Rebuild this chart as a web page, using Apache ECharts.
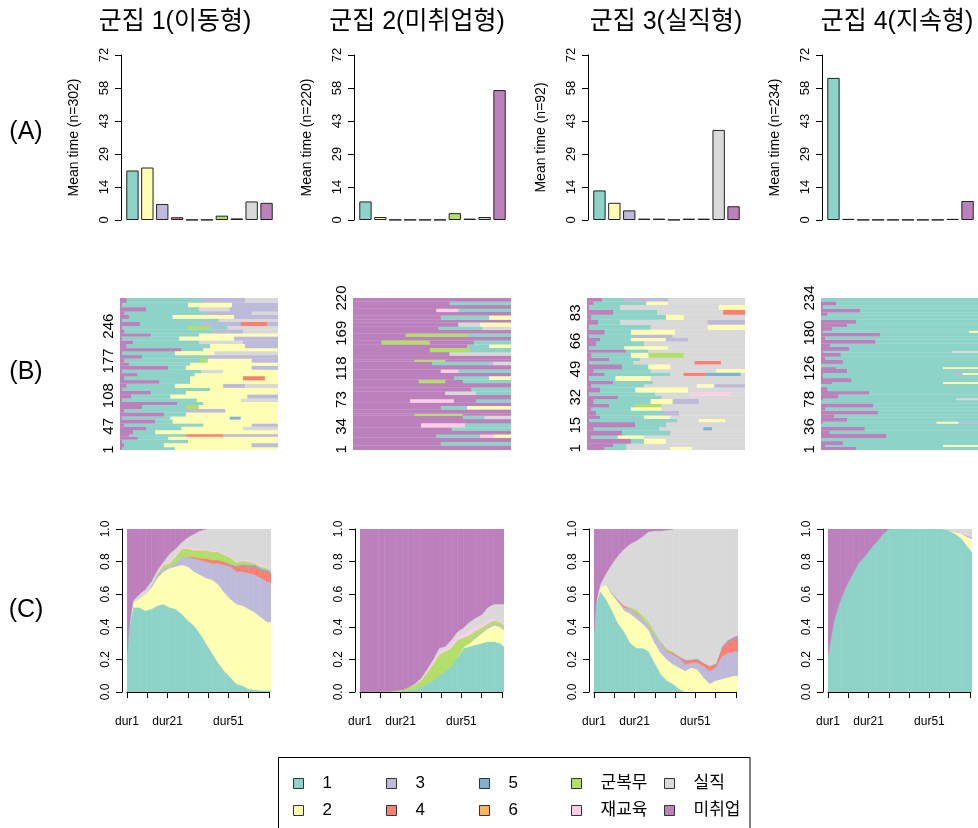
<!DOCTYPE html>
<html><head><meta charset="utf-8">
<script src="https://cdn.jsdelivr.net/npm/echarts@6/dist/echarts.min.js"></script>
<style>html,body{margin:0;padding:0;background:#fff}#c{width:978px;height:828px}</style>
</head><body><div id="c"></div>
<script>
// ---------- data ----------
const states = ['1','2','3','4','5','6','군복무','재교육','실직','미취업'];
const stateCodes = 'abcdefghij';
const colors = ['#8DD3C7','#FFFFB3','#BEBADA','#FB8072','#80B1D3','#FDB462','#B3DE69','#FCCDE5','#D9D9D9','#BC80BD'];
const clusterTitles = ['군집 1(이동형)','군집 2(미취업형)','군집 3(실직형)','군집 4(지속형)'];
const clusterN = [302,220,92,234];
const rowLabels = ['(A)','(B)','(C)'];

// (A) mean time in each state
const meanTimeTicks = [0,14,29,43,58,72];
const meanTime1 = [21.6,22.9,7.0,1.2,0.1,0.1,1.9,0.7,8.1,7.5];
const meanTime2 = [8.1,1.3,0.1,0.1,0.1,0.1,3.0,0.6,1.3,56.7];
const meanTime3 = [12.9,7.5,4.2,0.6,0.6,0.1,0.6,0.6,39.3,6.0];
const meanTime4 = [62.0,0.5,0.1,0.1,0.1,0.1,0.1,0.1,0.5,8.3];

// (B) sequence index plots: [rows, spells] from bottom; letter = state, number = months
const seqTicks1 = [1,47,108,177,246];
const seqTicks2 = [1,34,73,118,169,220];
const seqTicks3 = [1,15,32,49,66,83];
const seqTicks4 = [1,36,78,126,180,234];
const seq1 = [[6,'j1 a24 b47'],[8,'j2 a18 b40 c12'],[7,'j1 a30 b41'],[6,'j8 a14 b50'],[5,'j4 a26 d17 c25'],
 [8,'j6 a10 b56'],[7,'j12 a16 b28 i16'],[6,'j2 a36 b22 c12'],[8,'j16 a8 b48'],[6,'j1 a22 b27 e5 b17'],
 [8,'j20 a10 b42'],[7,'j2 a28 c18 b24'],[8,'j10 a20 g6 b36'],[6,'j26 a12 b34'],[7,'j1 a34 b20 i17'],
 [8,'j5 a18 b35 c14'],[7,'j14 a16 b42'],[6,'j1 a40 b31'],[8,'j3 a22 b22 c10 i15'],[7,'j18 a14 b40'],
 [8,'j2 a30 b24 d10 b6'],[6,'j8 a26 b38'],[7,'j1 a36 i10 b25'],[8,'j22 a8 b30 c12'],[6,'j4 a28 b40'],
 [8,'j2 a34 g4 b20 c12'],[7,'j10 a30 c32'],[8,'j1 a24 b18 i29'],[6,'j28 a10 b34'],[8,'j3 a38 b16 c15'],
 [7,'j6 a30 i20 c16'],[8,'j1 a26 b25 c20'],[6,'j14 a22 b36'],[8,'j2 a40 c14 i16'],[7,'j1 a30 g10 a8 i23'],
 [8,'j9 a28 c18 d12 c5'],[6,'j1 a44 i27'],[8,'j4 a20 b28 c20'],[7,'j2 a36 c22 i12'],[8,'j12 a24 i14 c22'],
 [9,'j1 a30 b20 c21'],[9,'j3 a34 c20 i15']];
const seq2 = [[7,'j72'],[5,'j40 a32'],[6,'j72'],[5,'j38 a20 h6 b8'],[5,'j72'],[5,'j45 a27'],[6,'j31 h20 a21'],
 [6,'j72'],[5,'j50 a10 i12'],[3,'j28 g22 j22'],[6,'j72'],[5,'j40 a12 b20'],[5,'j72'],[5,'j26 h20 j10 a16'],
 [6,'j72'],[5,'j42 i14 a16'],[6,'j54 a18'],[6,'j72'],[5,'j30 g12 j8 a22'],[5,'j46 a16 b10'],[5,'j72'],
 [5,'j40 h8 a24'],[6,'j72'],[5,'j36 a26 c2 i8'],[3,'j28 g14 j30'],[6,'j72'],[5,'j44 i28'],[6,'j35 g18 a19'],
 [5,'j52 a10 b10'],[6,'j13 g22 j20 a17'],[5,'j72'],[5,'j24 g28 a20'],[5,'j72'],[5,'j39 a20 i13'],
 [6,'j48 i10 b14'],[4,'j72'],[6,'j40 a22 b10'],[5,'j72'],[5,'j38 h10 a24'],[5,'j72'],[5,'j44 a28'],[5,'j72']];
const seq3 = [[2,'j8 a10 i20 b10 i24'],[2,'j12 a6 i54'],[3,'j20 a6 b10 i36'],[2,'j2 a12 b12 i46'],
 [3,'j16 a22 i34'],[2,'j3 a30 i20 e4 i15'],[3,'j22 a14 i36'],[2,'j1 a40 i10 b12 i9'],[2,'j6 a20 b12 i34'],
 [3,'j4 a30 c8 i30'],[2,'j2 a18 b14 i38'],[2,'j10 a12 g12 i38'],[3,'j3 a26 b10 c12 i21'],[2,'j14 a20 i38'],
 [2,'j1 a30 i16 h18 i7'],[3,'j6 a16 b24 i26'],[2,'j2 a24 i24 b8 c14'],[2,'j12 a18 i42'],[3,'j1 a12 b16 i43'],
 [2,'j8 a30 i6 d10 e16 i2'],[2,'j3 a26 i30 b13'],[3,'j16 a12 b10 i34'],[2,'j1 a20 i28 d12 i11'],
 [2,'j10 a14 i48'],[3,'j2 a18 b8 g16 i28'],[2,'j18 a10 i44'],[2,'j1 a16 b20 i35'],[3,'j4 a22 i46'],
 [2,'j6 a14 b16 c10 i26'],[2,'j1 a20 c18 i33'],[3,'j8 a12 b20 i32'],[3,'j1 a28 i26 b17'],[3,'j5 a10 i40 c17'],
 [3,'j2 a34 b8 i28'],[3,'j12 a20 i30 d10'],[3,'j1 a14 i45 b12'],[2,'j3 a24 b10 i35'],[2,'j7 a10 c20 i35']];
const seq4 = [[5,'j16 a56'],[3,'j2 a54 b16'],[6,'j10 a62'],[5,'a72'],[6,'j30 a42'],[5,'j4 a68'],[6,'j20 a52'],
 [5,'a72'],[3,'j1 a52 b10 c9'],[6,'j12 a60'],[5,'j6 a66'],[6,'j26 a46'],[5,'j2 a70'],[6,'j24 a48'],[5,'a72'],
 [3,'j1 a61 i10'],[6,'j8 a64'],[5,'j22 a50'],[6,'j3 a69'],[5,'a72'],[3,'j5 a51 b16'],[6,'j14 a58'],[5,'j1 a71'],
 [3,'j1 a60 c4 b7'],[6,'j12 a60'],[3,'j7 a49 b16'],[5,'a72'],[6,'j10 a62'],[5,'j2 a70'],[6,'j9 a63'],
 [3,'j1 a59 i12'],[6,'j13 a59'],[5,'j4 a68'],[6,'j25 a47'],[5,'j2 a70'],[6,'j27 a45'],[3,'j1 a67 b4'],
 [6,'j5 a67'],[5,'j12 a60'],[6,'j16 a56'],[6,'a72'],[5,'j3 a69'],[6,'j18 a54'],[5,'j1 a71'],[6,'j7 a65'],[5,'a72']];

// (C) state distribution: proportion of each state (rows = states) at these months
const months = [1,2,4,7,10,13,16,19,22,25,28,31,34,37,40,43,46,49,52,55,58,61,64,67,70,72];
const durTicks = [1,11,21,31,41,51,61,71];
const durLabels = [1,21,51];
const dist1 = [
 [.24,.40,.52,.52,.50,.51,.53,.54,.52,.51,.48,.44,.41,.36,.30,.24,.18,.13,.09,.05,.04,.02,.015,.01,.01,.01],
 [0,0,.03,.05,.10,.13,.17,.20,.24,.26,.30,.33,.33,.36,.40,.45,.48,.48,.48,.49,.49,.49,.475,.45,.42,.42],
 [0,0,0,0,0,.01,.02,.02,.01,.02,.05,.06,.08,.09,.10,.10,.13,.17,.20,.20,.21,.22,.23,.24,.25,.24],
 [0,0,0,0,0,0,0,0,0,0,0,0,.01,.01,.02,.02,.02,.02,.01,.03,.04,.04,.05,.05,.06,.06],
 [0,0,0,0,0,0,0,0,0,0,0,0,0,0,0,0,0,0,.005,.005,.005,.01,.01,.01,.01,.01],
 [0,0,0,0,0,0,0,0,0,0,0,0,0,0,0,0,0,0,0,0,0,0,0,0,0,0],
 [0,0,0,0,0,0,.01,.02,.02,.04,.05,.05,.04,.05,.05,.05,.05,.04,.04,.02,.02,.02,.01,.01,.01,.01],
 [0,0,0,0,0,0,0,.01,.01,.01,.01,.01,.01,.01,.01,.01,.01,.01,.01,.01,.01,.01,.01,.01,.01,.01],
 [0,0,.01,.03,.03,.03,.02,.01,.05,.04,.03,.06,.09,.11,.12,.13,.13,.15,.165,.195,.185,.19,.20,.22,.23,.24],
 [.76,.60,.44,.40,.37,.32,.25,.20,.15,.12,.08,.05,.03,.01,0,0,0,0,0,0,0,0,0,0,0,0]];
const dist2 = [
 [0,0,0,0,0,0,0,0,.005,.01,.015,.03,.05,.07,.10,.13,.16,.21,.27,.28,.29,.30,.31,.31,.30,.28],
 [0,0,0,0,0,0,0,0,0,0,0,0,0,0,0,0,0,0,.005,.02,.04,.06,.08,.10,.10,.10],
 [0,0,0,0,0,0,0,0,0,0,0,0,0,0,0,0,0,0,0,0,.005,.005,.01,.01,.01,.01],
 [0,0,0,0,0,0,0,0,0,0,0,0,0,0,0,0,0,0,0,0,0,0,0,0,0,0],
 [0,0,0,0,0,0,0,0,0,0,0,0,0,0,0,0,0,0,0,0,0,0,0,0,0,0],
 [0,0,0,0,0,0,0,0,0,0,0,0,0,0,0,0,0,0,0,0,0,0,0,0,0,0],
 [0,0,0,0,0,.005,.005,.01,.01,.02,.03,.04,.07,.10,.13,.12,.11,.11,.06,.05,.04,.03,.02,.02,.02,.02],
 [0,0,0,0,0,0,0,0,0,0,0,.005,.01,.01,.01,.01,.02,.02,.02,.03,.03,.02,.02,.01,.01,.01],
 [0,0,0,0,0,0,0,0,0,0,.005,.01,.01,.02,.03,.02,.03,.03,.04,.05,.05,.06,.08,.09,.10,.12],
 [1,1,1,1,1,.995,.995,.99,.985,.97,.95,.915,.86,.80,.73,.72,.68,.63,.605,.57,.545,.525,.48,.46,.46,.46]];
const dist3 = [
 [.37,.55,.62,.57,.50,.42,.37,.30,.27,.27,.25,.18,.11,.07,.05,.02,0,0,0,0,0,0,0,0,0,0],
 [0,0,.02,.09,.10,.13,.13,.18,.18,.15,.13,.12,.13,.13,.12,.13,.13,.15,.14,.09,.05,.07,.08,.09,.10,.10],
 [0,0,0,0,.01,.01,.02,.03,.03,.03,.03,.05,.06,.05,.06,.06,.04,.03,.04,.07,.08,.08,.14,.15,.15,.15],
 [0,0,0,0,0,.005,.01,0,.005,0,0,0,0,.005,.01,.01,.02,.02,.02,.02,.03,.02,.05,.07,.08,.08],
 [0,0,0,0,0,0,0,0,0,0,0,0,0,0,0,0,.01,0,.005,0,0,.005,.01,.01,.01,.02],
 [0,0,0,0,0,0,0,0,0,0,0,0,0,0,0,0,0,0,0,0,0,0,0,0,0,0],
 [0,0,0,0,0,0,0,.01,.02,.02,.02,.02,.01,.01,.01,0,0,0,0,0,0,0,0,0,0,0],
 [0,0,0,0,0,0,0,0,0,0,0,0,0,0,0,0,0,0,0,0,0,0,.005,.01,.01,.01],
 [0,0,.02,.07,.18,.275,.35,.39,.425,.485,.555,.62,.68,.73,.75,.78,.80,.80,.795,.82,.84,.825,.715,.67,.65,.64],
 [.63,.45,.34,.27,.21,.16,.12,.09,.07,.045,.015,.01,.01,.005,0,0,0,0,0,0,0,0,0,0,0,0]];
const dist4 = [
 [.23,.30,.44,.56,.65,.72,.79,.83,.88,.92,.97,1,1,1,1,1,1,1,1,1,1,.99,.97,.94,.89,.86],
 [0,0,0,0,0,0,0,0,0,0,0,0,0,0,0,0,0,0,0,0,0,0,.01,.03,.06,.08],
 [0,0,0,0,0,0,0,0,0,0,0,0,0,0,0,0,0,0,0,0,0,0,0,0,.01,.01],
 [0,0,0,0,0,0,0,0,0,0,0,0,0,0,0,0,0,0,0,0,0,0,0,0,0,0],
 [0,0,0,0,0,0,0,0,0,0,0,0,0,0,0,0,0,0,0,0,0,0,0,0,0,0],
 [0,0,0,0,0,0,0,0,0,0,0,0,0,0,0,0,0,0,0,0,0,0,0,0,0,0],
 [0,0,0,0,0,0,0,0,0,0,0,0,0,0,0,0,0,0,0,0,0,0,0,0,0,0],
 [0,0,0,0,0,0,0,0,0,0,0,0,0,0,0,0,0,0,0,0,0,0,0,.01,.01,.01],
 [0,0,0,0,0,0,0,0,0,0,0,0,0,0,0,0,0,0,0,0,0,.01,.02,.02,.03,.04],
 [.77,.70,.56,.44,.35,.28,.21,.17,.12,.08,.03,0,0,0,0,0,0,0,0,0,0,0,0,0,0,0]];

const meanTimes = [meanTime1, meanTime2, meanTime3, meanTime4];
const seqs = [seq1, seq2, seq3, seq4];
const seqTicks = [seqTicks1, seqTicks2, seqTicks3, seqTicks4];
const dists = [dist1, dist2, dist3, dist4];

// ---------- layout ----------
const LAT = "'Liberation Sans', Arial, sans-serif";
const KO = "'Liberation Sans', 'Noto Sans CJK KR', sans-serif";
const baseX = [125, 358, 592, 826];
const titleX = [175, 417, 666, 897];

function buildSeq(groups) {
  const out = []; let row = 0;
  groups.forEach(([n, spec]) => {
    let t = 0.5;
    spec.split(' ').forEach(tok => {
      const s = stateCodes.indexOf(tok[0]); const d = +tok.slice(1);
      out.push([t, t + d, row, row + n, s]);
      t += d;
    });
    row += n;
  });
  return out;
}
// stacked bands: each item = one segment between consecutive months [m0, m1, lo0, hi0, lo1, hi1]
function buildBands(dist, s) {
  const out = [];
  const lo = months.map((m, i) => { let a = 0; for (let k = 0; k < s; k++) a += dist[k][i]; return a; });
  const hi = months.map((m, i) => lo[i] + dist[s][i]);
  for (let i = 0; i < months.length - 1; i++) {
    out.push([months[i], months[i + 1], lo[i], hi[i], lo[i + 1], hi[i + 1]]);
  }
  return out;
}

const grid = [], xAxis = [], yAxis = [], series = [];
const axisLineBlack = {show: true, lineStyle: {color: '#000', width: 1}};
const tickBlack = {show: true, length: 6, lineStyle: {color: '#000', width: 1}};

for (let c = 0; c < 4; c++) {
  const b = baseX[c];
  // (A)
  let gi = grid.length;
  grid.push({left: b, top: 55, width: 149, height: 165});
  xAxis.push({gridIndex: gi, type: 'category', data: states, show: false});
  yAxis.push({gridIndex: gi, type: 'value', min: 0, max: 72, interval: 14.4, offset: 4,
    axisLine: axisLineBlack, axisTick: tickBlack, splitLine: {show: false},
    axisLabel: {rotate: 90, fontSize: 13, fontFamily: LAT, color: '#000', margin: 10,
      formatter: (v, i) => String(meanTimeTicks[i])},
    name: 'Mean time (n=' + clusterN[c] + ')', nameLocation: 'middle', nameGap: 40,
    nameTextStyle: {fontSize: 14, fontFamily: LAT, color: '#000'}});
  series.push({type: 'bar', xAxisIndex: gi, yAxisIndex: gi, barCategoryGap: '17%',
    data: meanTimes[c].map((v, i) => ({value: v, itemStyle: {color: colors[i]}})),
    itemStyle: {borderColor: '#222', borderWidth: 1}, silent: true});
  // (B)
  gi = grid.length;
  grid.push({left: b - 5, top: 298, width: 158, height: 152});
  xAxis.push({gridIndex: gi, type: 'value', min: 0.5, max: 72.5, show: false});
  yAxis.push({gridIndex: gi, type: 'value', min: 0, max: clusterN[c],
    axisLine: {show: false}, axisTick: {show: false}, splitLine: {show: false},
    axisLabel: {customValues: seqTicks[c], rotate: 90, fontSize: 15, fontFamily: LAT, color: '#000', margin: 4}});
  series.push({type: 'custom', xAxisIndex: gi, yAxisIndex: gi, silent: true, clip: true,
    data: buildSeq(seqs[c]), encode: {x: [0, 1], y: [2, 3]},
    renderItem: (params, api) => {
      const p0 = api.coord([api.value(0), api.value(3)]);
      const p1 = api.coord([api.value(1), api.value(2)]);
      return {type: 'rect', shape: {x: p0[0], y: p0[1], width: p1[0] - p0[0] + 0.3, height: p1[1] - p0[1] + 0.3},
        style: {fill: colors[api.value(4)]}};
    }});
  // (C) data grid
  gi = grid.length;
  grid.push({left: b + 2, top: 529, width: 144, height: 163});
  xAxis.push({gridIndex: gi, type: 'value', min: 1, max: 72, show: false});
  yAxis.push({gridIndex: gi, type: 'value', min: 0, max: 1, interval: 0.2, offset: 5,
    axisLine: axisLineBlack, axisTick: tickBlack, splitLine: {show: false},
    axisLabel: {rotate: 90, fontSize: 12, fontFamily: LAT, color: '#000', margin: 10, formatter: v => v.toFixed(1)}});
  dists[c].forEach((arr, s) => {
    series.push({type: 'custom', name: states[s], xAxisIndex: gi, yAxisIndex: gi, silent: true, clip: true,
      itemStyle: {color: colors[s]},
      data: buildBands(dists[c], s), encode: {x: [0, 1], y: [2, 3, 4, 5]},
      renderItem: (params, api) => {
        if (api.value(3) - api.value(2) <= 0 && api.value(5) - api.value(4) <= 0) return null;
        const pts = [
          api.coord([api.value(0), api.value(2)]), api.coord([api.value(1), api.value(4)]),
          api.coord([api.value(1), api.value(5)]), api.coord([api.value(0), api.value(3)])];
        return {type: 'polygon', shape: {points: pts},
          style: {fill: colors[s], stroke: colors[s], lineWidth: 0.6}};
      }});
  });
  // (C) tick axis
  gi = grid.length;
  grid.push({left: b + 2, top: 529, width: 142, height: 163});
  xAxis.push({gridIndex: gi, type: 'value', min: 1, max: 71, offset: 4,
    axisLine: axisLineBlack, splitLine: {show: false},
    axisTick: {show: true, length: 6, customValues: durTicks, lineStyle: {color: '#000'}},
    axisLabel: {customValues: durLabels, formatter: v => 'dur' + v, fontSize: 12, fontFamily: LAT, color: '#000', margin: 20}});
  yAxis.push({gridIndex: gi, type: 'value', min: 0, max: 1, show: false});
}

const legendX = [293, 386, 479, 571, 664];
const legend = legendX.map((x, k) => ({
  data: [states[2 * k], states[2 * k + 1]].map(name => ({name, itemStyle: {color: colors[states.indexOf(name)], borderColor: '#333', borderWidth: 1}})),
  orient: 'vertical', left: x, top: 775, itemWidth: 10, itemHeight: 10, itemGap: 10, padding: 0,
  icon: 'rect', selectedMode: false,
  textStyle: {fontSize: 17, fontFamily: KO, color: '#000', padding: [0, 0, 0, 14], lineHeight: 16}
}));

const graphic = [];
clusterTitles.forEach((t, c) => graphic.push({type: 'text', x: titleX[c], y: 22,
  style: {text: t, fontSize: 25, fontFamily: KO, fill: '#000', align: 'center', verticalAlign: 'middle'}}));
[132, 372, 610].forEach((y, r) => graphic.push({type: 'text', x: 26, y: y,
  style: {text: rowLabels[r], fontSize: 25, fontFamily: LAT, fill: '#000', align: 'center', verticalAlign: 'middle'}}));
graphic.push({type: 'rect', shape: {x: 278.5, y: 757.5, width: 471.5, height: 90},
  style: {fill: 'none', stroke: '#000', lineWidth: 1}, silent: true});

const chart = echarts.init(document.getElementById('c'), null, {renderer: 'canvas'});
chart.setOption({animation: false, backgroundColor: '#fff', grid, xAxis, yAxis, series, legend, graphic});
</script></body></html>
